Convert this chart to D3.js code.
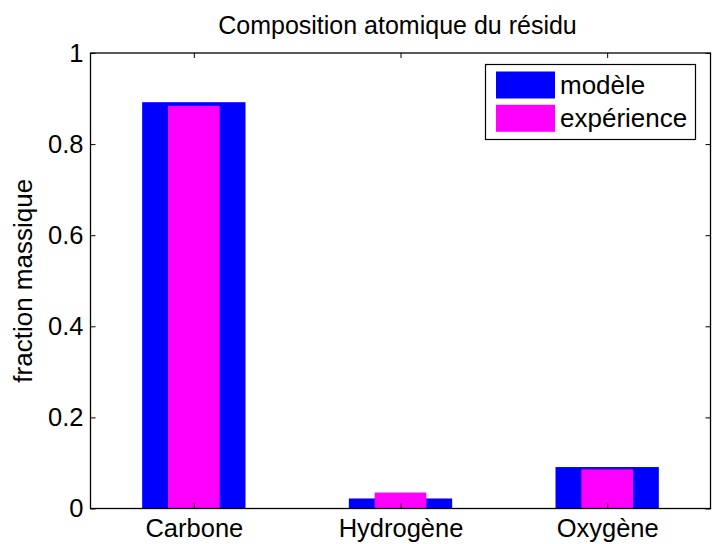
<!DOCTYPE html>
<html>
<head>
<meta charset="utf-8">
<script src="https://cdn.jsdelivr.net/npm/d3@7"></script>
<style>
  html, body { margin: 0; padding: 0; background: #fff; }
  svg { display: block; }
  text { font-family: "Liberation Sans", Arial, sans-serif; fill: #000; }
</style>
</head>
<body>
<script>
// ---- data ----
const categories = ["Carbone", "Hydrogène", "Oxygène"];
const modele = [0.892, 0.022, 0.091];
const experience = [0.884, 0.035, 0.086];
const yTickValues = [0, 0.2, 0.4, 0.6, 0.8, 1];
const yTickLabels = ["0", "0.2", "0.4", "0.6", "0.8", "1"];
const seriesNames = ["modèle", "expérience"];
const seriesColors = ["#0000ff", "#ff00ff"];
const titleText = "Composition atomique du résidu";
const yLabelText = "fraction massique";

// ---- layout ----
const W = 713, H = 544;
const pLeft = 90.5, pRight = 710.5, pTop = 53, pBottom = 508.5;
const fsTick = 25.5, fsTitle = 25, fsLabel = 26, fsLegend = 26;

const svg = d3.select("body").append("svg").attr("width", W).attr("height", H);

const x = d3.scaleLinear().domain([0.5, 3.5]).range([pLeft, pRight]);
const y = d3.scaleLinear().domain([0, 1]).range([pBottom, pTop]);

// bars
const wideW = 0.5, narrowW = 0.25;
svg.append("g").selectAll("rect").data(modele).join("rect")
  .attr("x", (d, i) => x(i + 1 - wideW / 2))
  .attr("width", (d, i) => x(i + 1 + wideW / 2) - x(i + 1 - wideW / 2))
  .attr("y", d => y(d))
  .attr("height", d => y(0) - y(d))
  .attr("fill", seriesColors[0]);
svg.append("g").selectAll("rect").data(experience).join("rect")
  .attr("x", (d, i) => x(i + 1 - narrowW / 2))
  .attr("width", (d, i) => x(i + 1 + narrowW / 2) - x(i + 1 - narrowW / 2))
  .attr("y", d => y(d))
  .attr("height", d => y(0) - y(d))
  .attr("fill", seriesColors[1]);

// axes
const yAxisL = d3.axisLeft(y).tickValues(yTickValues).tickSize(-5).tickPadding(7)
  .tickFormat((d, i) => yTickLabels[i]);
const gl = svg.append("g").attr("transform", `translate(${pLeft},0)`).call(yAxisL);
gl.select(".domain").remove();
gl.selectAll("text").style("font-size", fsTick + "px").style("font-family", "Liberation Sans, Arial, sans-serif");
gl.selectAll("line").attr("stroke", "#000");

const yAxisR = d3.axisRight(y).tickValues(yTickValues).tickSize(-5).tickFormat("");
const gr = svg.append("g").attr("transform", `translate(${pRight},0)`).call(yAxisR);
gr.select(".domain").remove();

const xAxisB = d3.axisBottom(x).tickValues([1, 2, 3]).tickSize(-5)
  .tickFormat((d, i) => categories[i]);
const gb = svg.append("g").attr("transform", `translate(0,${pBottom})`).call(xAxisB);
gb.select(".domain").remove();
gb.selectAll("text").attr("y", 28.5).attr("dy", null)
  .style("font-size", fsTick + "px").style("font-family", "Liberation Sans, Arial, sans-serif");

const xAxisT = d3.axisTop(x).tickValues([1, 2, 3]).tickSize(-5).tickFormat("");
const gt = svg.append("g").attr("transform", `translate(0,${pTop})`).call(xAxisT);
gt.select(".domain").remove();

// frame
svg.append("rect").attr("x", pLeft).attr("y", pTop)
  .attr("width", pRight - pLeft).attr("height", pBottom - pTop)
  .attr("fill", "none").attr("stroke", "#000").attr("stroke-width", 1.3);

// title
svg.append("text").attr("x", (pLeft + pRight) / 2 - 3).attr("y", 34)
  .attr("text-anchor", "middle").style("font-size", fsTitle + "px").text(titleText);

// y label
svg.append("text").attr("transform", `translate(32,${(pTop + pBottom) / 2}) rotate(-90)`)
  .attr("text-anchor", "middle").style("font-size", fsLabel + "px").text(yLabelText);

// legend
const lg = svg.append("g");
lg.append("rect").attr("x", 485.5).attr("y", 64.5).attr("width", 210).attr("height", 75)
  .attr("fill", "#fff").attr("stroke", "#000").attr("stroke-width", 1.2);
seriesNames.forEach((name, i) => {
  const cy = 85 + i * 33.3;
  lg.append("rect").attr("x", 496).attr("y", cy - 13.5).attr("width", 59).attr("height", 27)
    .attr("fill", seriesColors[i]);
  lg.append("text").attr("x", 560).attr("y", cy).attr("dy", "0.35em")
    .style("font-size", fsLegend + "px").text(name);
});
</script>
</body>
</html>
